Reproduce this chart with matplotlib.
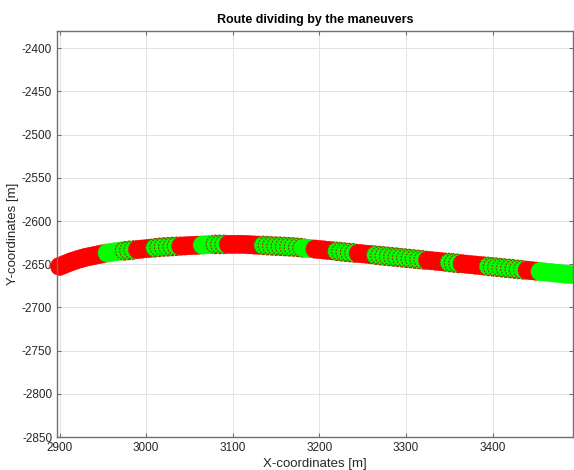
import matplotlib
import numpy as np
import matplotlib.pyplot as plt

matplotlib.use('Agg')

# route points (x, y in metres)
route_x = [2900, 2905, 2910, 2915, 2920, 2925, 2930, 2935, 2940, 2945,
           2950, 2955, 2960, 2965, 2970, 2975, 2980, 2985, 2990, 2995,
           3000, 3005, 3010, 3015, 3020, 3025, 3030, 3035, 3040, 3045,
           3050, 3055, 3060, 3065, 3070, 3075, 3080, 3085, 3090, 3095,
           3100, 3105, 3110, 3115, 3120, 3125, 3130, 3135, 3140, 3145,
           3150, 3155, 3160, 3165, 3170, 3175, 3180, 3185, 3190, 3195,
           3200, 3205, 3210, 3215, 3220, 3225, 3230, 3235, 3240, 3245,
           3250, 3255, 3260, 3265, 3270, 3275, 3280, 3285, 3290, 3295,
           3300, 3305, 3310, 3315, 3320, 3325, 3330, 3335, 3340, 3345,
           3350, 3355, 3360, 3365, 3370, 3375, 3380, 3385, 3390, 3395,
           3400, 3405, 3410, 3415, 3420, 3425, 3430, 3435, 3440, 3445,
           3450, 3455, 3460, 3465, 3470, 3475, 3480, 3485, 3490]
route_y = [-2652.5, -2650.5, -2648.5, -2646.5, -2645, -2643.5, -2642, -2641, -2640, -2639,
           -2638, -2637, -2636.2, -2635.5, -2635, -2634.5, -2634, -2633.5, -2633, -2632.5,
           -2632, -2631.5, -2631, -2630.5, -2630, -2629.8, -2629.5, -2629.2, -2629, -2628.8,
           -2628.5, -2628.2, -2628, -2627.8, -2627.5, -2627.2, -2627, -2627, -2627, -2627,
           -2627, -2627, -2627, -2627.2, -2627.5, -2627.8, -2628, -2628.2, -2628.5, -2628.8,
           -2629, -2629.2, -2629.5, -2629.8, -2630, -2630.5, -2631, -2631.5, -2632, -2632.5,
           -2633, -2633.5, -2634, -2634.5, -2635, -2635.5, -2636, -2636.5, -2637, -2637.5,
           -2638, -2638.5, -2639, -2639.5, -2640, -2640.5, -2641, -2641.5, -2642, -2642.5,
           -2643, -2643.5, -2644, -2644.5, -2645, -2645.5, -2646, -2646.5, -2647, -2647.5,
           -2648, -2648.5, -2649, -2649.5, -2650, -2650.5, -2651, -2651.5, -2652, -2652.5,
           -2653, -2653.5, -2654, -2654.5, -2655, -2655.5, -2656, -2656.5, -2657, -2657.5,
           -2658, -2658.5, -2659, -2659.5, -2660, -2660.5, -2661, -2661.5, -2662]

# maneuver segments along x: 0 = straight (red), 1 = maneuver (green), 2 = maneuver, edged
seg_start = [2900, 2955, 2975, 2990, 3010, 3040, 3065, 3080, 3095, 3135, 3185, 3195,
             3220, 3245, 3265, 3325, 3350, 3365, 3395, 3440, 3455]
seg_end = [2950, 2970, 2985, 3005, 3035, 3060, 3075, 3090, 3130, 3180, 3190, 3215,
           3240, 3260, 3320, 3345, 3360, 3390, 3435, 3450, 3490]
seg_kind = [0, 1, 2, 0, 2, 0, 1, 2, 0, 2, 1, 0,
            2, 0, 2, 0, 2, 0, 2, 0, 1]

face_cols = {0: '#ff0000', 1: '#00ff00', 2: '#00ff00'}
edge_cols = {0: '#ff0000', 1: '#00ff00', 2: '#8c4600'}

plt.rcParams['font.family'] = ['Liberation Sans', 'DejaVu Sans']
plt.rcParams['axes.unicode_minus'] = False

fig = plt.figure(figsize=(5.74, 4.70), dpi=100)
ax = fig.add_axes([0.0993, 0.0702, 0.899, 0.864])

x = np.array(route_x)
y = np.array(route_y)
kinds = np.zeros(len(x), dtype=int)
for s, e, k in zip(seg_start, seg_end, seg_kind):
    kinds[(x >= s) & (x <= e)] = k

# all markers in route order, so each one covers the previous
fc = [face_cols[k] for k in kinds]
ec = [edge_cols[k] for k in kinds]
lw = [0.9 if k == 2 else 0.3 for k in kinds]
ls = [(0, (1.5, 1.0)) if k == 2 else (0, None) for k in kinds]
ax.scatter(x, y, s=175, c=fc, edgecolors=ec, linewidths=lw, linestyles=ls,
           zorder=3, clip_on=False)

ax.set_xlim(2897, 3493)
ax.set_ylim(-2850, -2380)
ax.set_xticks(np.arange(2900, 3401, 100))
ax.set_yticks(np.arange(-2850, -2399, 50))

ax.grid(True, color='#e3e3e3', linewidth=0.7)
ax.set_axisbelow(True)
for sp in ax.spines.values():
    sp.set_color('#707070')
    sp.set_linewidth(1.0)
    sp.set_zorder(5)
ax.tick_params(direction='in', top=True, right=True, length=3, width=0.8,
               colors='#707070', labelcolor='#262626', labelsize=8.5)

ax.set_title('Route dividing by the maneuvers', fontsize=9, fontweight='bold', pad=6)
ax.set_xlabel('X-coordinates [m]', fontsize=9.5, color='#262626', labelpad=3)
ax.set_ylabel('Y-coordinates [m]', fontsize=9.5, color='#262626', labelpad=2)

fig.savefig('out.png', dpi=100)
